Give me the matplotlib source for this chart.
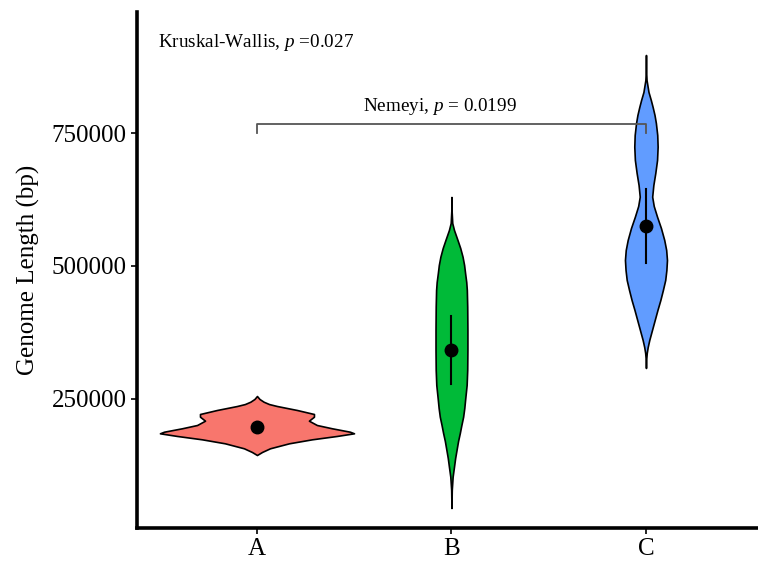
import matplotlib
matplotlib.use("Agg")
import matplotlib.pyplot as plt
import numpy as np

plt.rcParams["font.family"] = ["Liberation Serif", "DejaVu Serif"]
plt.rcParams["mathtext.fontset"] = "custom"
plt.rcParams["mathtext.rm"] = "Liberation Serif"
plt.rcParams["mathtext.it"] = "Liberation Serif:italic"

# ---------------------------------------------------------------------------
# Data (violin profiles: genome length vs half-width)
# ---------------------------------------------------------------------------
GROUPS = ["A", "B", "C"]
COLORS = ["#F8766D", "#00BA38", "#619CFF"]

A_LEN = [144700, 150400, 157300, 166700, 174200, 180500, 185500, 188500, 194900,
         201100, 209200, 216700, 221800, 229300, 236800, 240500, 244900, 250000,
         255600]
A_HW = [0.0, 0.026, 0.067, 0.165, 0.283, 0.411, 0.499, 0.478, 0.386,
        0.308, 0.267, 0.293, 0.293, 0.206, 0.103, 0.062, 0.034, 0.013,
        0.0]

B_LEN = [45100, 78900, 103900, 122700, 139090, 154100, 171060, 186100, 201110,
         216700, 233080, 248100, 276300, 304500, 342100, 379700, 423500, 454900,
         469920, 486800, 501890, 517500, 533840, 548900, 567700, 580800, 605260,
         629700]
B_HW = [0.0, 0.0015, 0.006, 0.013, 0.019, 0.026, 0.034, 0.043, 0.051,
        0.060, 0.066, 0.070, 0.078, 0.081, 0.082, 0.082, 0.081, 0.079,
        0.076, 0.070, 0.065, 0.057, 0.045, 0.031, 0.013, 0.004, 0.0005,
        0.0]

C_LEN = [308300, 323350, 336500, 347740, 360900, 379700, 398500, 417290, 436100,
         454890, 473700, 492480, 511300, 530070, 548900, 571430, 592700, 612780,
         630300, 652260, 674800, 699250, 724200, 746240, 768800, 783835, 799400,
         812030, 827100, 849600, 868400, 896600]
C_HW = [0.0, 0.001, 0.004, 0.009, 0.017, 0.031, 0.045, 0.059, 0.074,
        0.087, 0.099, 0.105, 0.108, 0.104, 0.094, 0.077, 0.057, 0.040,
        0.032, 0.038, 0.048, 0.057, 0.060, 0.058, 0.051, 0.044, 0.034,
        0.025, 0.013, 0.003, 0.0005, 0.0]

MEANS = [197400, 342100, 575200]
ERR_LO = [189000, 278200, 505600]
ERR_HI = [206000, 406000, 644700]

KW_TEXT = "Kruskal-Wallis, $p$ =0.027"
NEMEYI_TEXT = "Nemeyi, $p$ = 0.0199"
BRACKET_Y = 766900
BRACKET_TICK = 750000

profiles = [(A_LEN, A_HW), (B_LEN, B_HW), (C_LEN, C_HW)]

fig = plt.figure(figsize=(7.58, 5.62), dpi=100)
ax = fig.add_axes([0.1807, 0.0605, 0.8193, 0.9181])

for i, ((ys, hw), col) in enumerate(zip(profiles, COLORS)):
    pos = i + 1
    ys = np.array(ys, dtype=float)
    hw = np.array(hw, dtype=float)
    ax.fill_betweenx(ys, pos - hw, pos + hw, facecolor=col,
                     edgecolor="black", linewidth=1.2, zorder=2)
    ax.plot([pos, pos], [ERR_LO[i], ERR_HI[i]], color="black", lw=1.5, zorder=3)
    ax.plot(pos, MEANS[i], "o", color="black", markersize=9, zorder=4)

# significance bracket A vs C (drawn over the violins)
ax.plot([1, 1, 3, 3], [BRACKET_TICK, BRACKET_Y, BRACKET_Y, BRACKET_TICK],
        color="#555555", lw=1.3, zorder=5)
ax.text(1.943, BRACKET_Y + 14000, NEMEYI_TEXT, ha="center", va="bottom", fontsize=13.8)
ax.text(0.49, 921000, KW_TEXT, ha="left", va="center", fontsize=13.8)

ax.set_xlim(0.383, 3.576)
ax.set_ylim(7500, 977400)
ax.set_xticks([1, 2, 3])
ax.set_xticklabels(GROUPS)
ax.set_yticks([250000, 500000, 750000])
ax.set_yticklabels(["250000", "500000", "750000"])
ax.set_ylabel("Genome Length (bp)", fontsize=18, labelpad=8)
ax.tick_params(labelsize=18, length=4, width=1.2, direction="out")

for side in ["top", "right"]:
    ax.spines[side].set_visible(False)
for side in ["left", "bottom"]:
    ax.spines[side].set_linewidth(2.6)

fig.savefig("out.png", dpi=100)
